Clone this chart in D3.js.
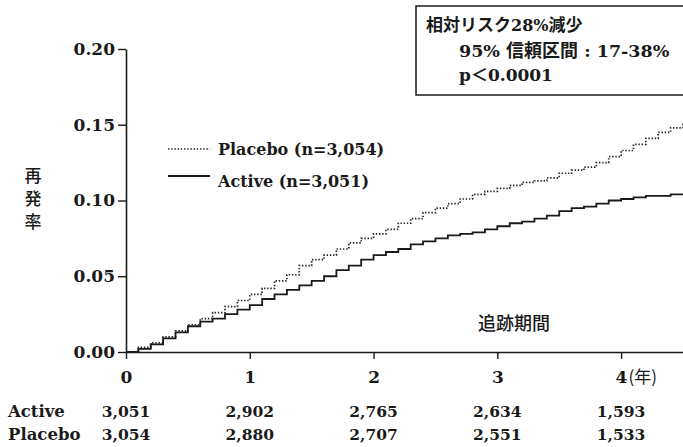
<!DOCTYPE html>
<html>
<head>
<meta charset="utf-8">
<script src="https://cdn.jsdelivr.net/npm/d3@7"></script>
<style>
  html, body { margin: 0; padding: 0; background: #fff; }
  svg { display: block; }
  .serif { font-family: "DejaVu Serif", "Liberation Serif", serif; font-weight: bold; fill: #1a1a1a; }
  .jp { font-family: "Noto Sans CJK JP", sans-serif; font-weight: 500; fill: #1a1a1a; }
</style>
</head>
<body>
<svg id="chart" width="683" height="447"></svg>
<script>
// Follow-up time (years) for each cumulative-incidence reading
const years = [0.0,0.1,0.2,0.3,0.4,0.5,0.6,0.7,0.8,0.9,1.0,1.1,1.2,1.3,1.4,1.5,1.6,1.7,1.8,1.9,
  2.0,2.1,2.2,2.3,2.4,2.5,2.6,2.7,2.8,2.9,3.0,3.1,3.2,3.3,3.4,3.5,3.6,3.7,3.8,3.9,
  4.0,4.1,4.2,4.3,4.4,4.5];
// Cumulative recurrence rate, placebo arm
const placeboRate = [0,0.003,0.006,0.010,0.014,0.018,0.022,0.026,0.030,0.034,0.038,0.042,0.047,0.051,0.057,0.061,0.064,0.068,0.072,0.075,
  0.078,0.081,0.085,0.088,0.092,0.095,0.098,0.101,0.104,0.106,0.108,0.110,0.112,0.113,0.115,0.118,0.120,0.122,0.125,0.129,
  0.133,0.137,0.141,0.145,0.148,0.151];
// Cumulative recurrence rate, active arm
const activeRate = [0,0.002,0.005,0.009,0.013,0.017,0.020,0.022,0.025,0.028,0.031,0.035,0.038,0.041,0.044,0.047,0.050,0.054,0.057,0.061,
  0.064,0.066,0.068,0.071,0.073,0.075,0.077,0.078,0.079,0.081,0.083,0.085,0.086,0.088,0.090,0.093,0.095,0.096,0.098,0.100,
  0.101,0.102,0.103,0.103,0.104,0.104];

const yTicks = [0, 0.05, 0.10, 0.15, 0.20];
const xTicks = [0, 1, 2, 3, 4];
// Numbers at risk at each yearly tick
const atRiskActive = ["3,051", "2,902", "2,765", "2,634", "1,593"];
const atRiskPlacebo = ["3,054", "2,880", "2,707", "2,551", "1,533"];
const legendLabels = ["Placebo (n=3,054)", "Active (n=3,051)"];

const svg = d3.select("#chart");

const x = d3.scaleLinear().domain([0, 4.5]).range([126, 683]);
const y = d3.scaleLinear().domain([0, 0.2]).range([352, 49]);

// Y axis
const yAxis = svg.append("g")
  .attr("transform", `translate(${x(0)},0)`)
  .call(d3.axisLeft(y).tickValues(yTicks).tickFormat(d3.format(".2f")).tickSize(8).tickSizeOuter(0).tickPadding(3));
yAxis.select(".domain").attr("stroke", "#1a1a1a").attr("stroke-width", 1.6);
yAxis.selectAll(".tick line").attr("stroke", "#1a1a1a").attr("stroke-width", 1.4);
yAxis.selectAll(".tick text").attr("class", "serif").style("font-size", "17px").attr("fill", "#1a1a1a");

// X axis
const xAxis = svg.append("g")
  .attr("transform", `translate(0,${y(0)})`)
  .call(d3.axisBottom(x).tickValues(xTicks).tickFormat(d3.format("d")).tickSize(7).tickSizeOuter(0).tickPadding(12));
xAxis.select(".domain").attr("stroke", "#1a1a1a").attr("stroke-width", 1.6);
xAxis.selectAll(".tick line").attr("stroke", "#1a1a1a").attr("stroke-width", 1.4);
xAxis.selectAll(".tick text").attr("class", "serif").style("font-size", "17px").attr("fill", "#1a1a1a");
// Unit label after the last tick
xAxis.selectAll(".tick").filter(d => d === 4).select("text")
  .attr("text-anchor", "start").attr("x", -6)
  .append("tspan").attr("class", "jp").attr("dx", 1).style("font-size", "17px").style("font-weight", "400").text("(年)");

// Step curves
const line = d3.line()
  .x((d, i) => x(years[i]))
  .y(d => y(d))
  .curve(d3.curveStepAfter);

svg.append("path")
  .datum(placeboRate)
  .attr("d", line)
  .attr("fill", "none")
  .attr("stroke", "#222")
  .attr("stroke-width", 1.7)
  .attr("stroke-dasharray", "1.4,1.8");

svg.append("path")
  .datum(activeRate)
  .attr("d", line)
  .attr("fill", "none")
  .attr("stroke", "#1a1a1a")
  .attr("stroke-width", 1.8);

// Y axis title, stacked vertically
const yTitle = svg.append("text").attr("class", "jp").style("font-size", "17px").attr("text-anchor", "middle");
["再", "発", "率"].forEach((ch, i) => {
  yTitle.append("tspan").attr("x", 33).attr("y", 182 + i * 23).text(ch);
});

// Axis caption inside plot
svg.append("text").attr("class", "jp").style("font-size", "18px")
  .attr("x", 478).attr("y", 330).text("追跡期間");

// Legend
const legend = svg.append("g");
legend.append("line").attr("x1", 168).attr("x2", 210).attr("y1", 149).attr("y2", 149)
  .attr("stroke", "#222").attr("stroke-width", 1.7).attr("stroke-dasharray", "1.4,1.8");
legend.append("line").attr("x1", 168).attr("x2", 210).attr("y1", 176).attr("y2", 176)
  .attr("stroke", "#1a1a1a").attr("stroke-width", 1.8);
legend.append("text").attr("class", "serif").style("font-size", "16px")
  .attr("x", 218).attr("y", 155).text(legendLabels[0]);
legend.append("text").attr("class", "serif").style("font-size", "16px")
  .attr("x", 218).attr("y", 187).text(legendLabels[1]);

// Relative risk annotation box
svg.append("rect").attr("x", 416).attr("y", 6).attr("width", 280).attr("height", 89)
  .attr("fill", "#fff").attr("stroke", "#1a1a1a").attr("stroke-width", 1.5);
const l1 = svg.append("text").attr("x", 426).attr("y", 31);
l1.append("tspan").attr("class", "jp").style("font-size", "17px").style("font-weight", "700").text("相対リスク");
l1.append("tspan").attr("class", "serif").style("font-size", "16px").text("28%");
l1.append("tspan").attr("class", "jp").style("font-size", "17px").style("font-weight", "700").text("減少");
const l2 = svg.append("text").attr("x", 459).attr("y", 57);
l2.append("tspan").attr("class", "serif").style("font-size", "17.5px").text("95% ");
l2.append("tspan").attr("class", "jp").style("font-size", "18px").style("font-weight", "700").text("信頼区間");
l2.append("tspan").attr("class", "serif").style("font-size", "17.5px").text(" : 17-38%");
const l3 = svg.append("text").attr("x", 459).attr("y", 81);
l3.append("tspan").attr("class", "serif").style("font-size", "17px").text("p");
l3.append("tspan").attr("class", "jp").style("font-size", "17px").style("font-weight", "700").text("＜");
l3.append("tspan").attr("class", "serif").style("font-size", "17px").text("0.0001");

// Numbers-at-risk table
const table = svg.append("g");
[["Active", atRiskActive, 417], ["Placebo", atRiskPlacebo, 440]].forEach(([name, vals, yy]) => {
  table.append("text").attr("class", "serif").style("font-size", "16.5px")
    .attr("x", 8).attr("y", yy).text(name);
  table.selectAll(null).data(vals).enter().append("text")
    .attr("class", "serif").style("font-size", "15.5px")
    .attr("text-anchor", "middle")
    .attr("x", (d, i) => x(xTicks[i]))
    .attr("y", yy).text(d => d);
});
</script>
</body>
</html>
